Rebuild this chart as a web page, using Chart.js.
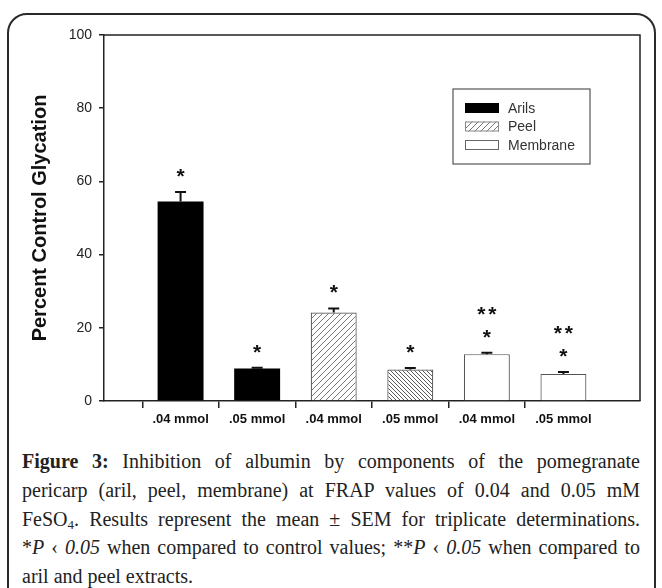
<!DOCTYPE html>
<html>
<head>
<meta charset="utf-8">
<script src="https://cdn.jsdelivr.net/npm/chart.js@4.4.1/dist/chart.umd.min.js"></script>
<style>
  html, body { margin:0; padding:0; background:#fff; width:662px; height:588px; overflow:hidden; }
  #frame { position:absolute; left:7px; top:13px; width:645px; height:640px; border:2px solid #2a2a2a; border-radius:20px; }
  #c { position:absolute; left:0; top:0; }
  #caption { position:absolute; left:22px; top:447px; width:618px; font-family:"Liberation Serif","Times New Roman",serif; font-size:20px; line-height:28.8px; color:#222; }
  #caption div { height:28.8px; text-align:justify; text-align-last:justify; white-space:nowrap; }
  #caption div.last { text-align-last:left; }
  #caption sub { font-size:13px; line-height:0; vertical-align:baseline; position:relative; top:3px; }
</style>
</head>
<body>
<div id="frame"></div>
<canvas id="c" width="662" height="432"></canvas>
<div id="caption">
  <div><b>Figure 3:</b> Inhibition of albumin by components of the pomegranate</div>
  <div>pericarp (aril, peel, membrane) at FRAP values of 0.04 and 0.05 mM</div>
  <div>FeSO<sub>4</sub>. Results represent the mean ± SEM for triplicate determinations.</div>
  <div>*<i>P</i> ‹ <i>0.05</i> when compared to control values; **<i>P</i> ‹ <i>0.05</i> when compared to</div>
  <div class="last">aril and peel extracts.</div>
</div>
<script>
// ---- data ----
const categories = ['.04 mmol', '.05 mmol', '.04 mmol', '.05 mmol', '.04 mmol', '.05 mmol'];
const arils    = [54.5, 8.9, null, null, null, null];
const peel     = [null, null, 24.2, 8.6, null, null];
const membrane = [null, null, null, null, 12.8, 7.4];
const sem      = [2.6, 0.2, 1.1, 0.4, 0.4, 0.5];
const starsVsControl = ['*', '*', '*', '*', '*', '*'];
const starsVsArilPeel = ['', '', '', '', '**', '**'];
const yTicks = [0, 20, 40, 60, 80, 100];
const seriesNames = ['Arils', 'Peel', 'Membrane'];

const FONT = '"Liberation Sans", Arial, sans-serif';
const pad = arr => [null, ...arr, null];
const labels = ['', ...categories, ''];

function hatch(dir, size, color, lw) {
  const c = document.createElement('canvas');
  c.width = size; c.height = size;
  const g = c.getContext('2d');
  g.fillStyle = '#fff'; g.fillRect(0, 0, size, size);
  g.strokeStyle = color; g.lineWidth = lw;
  g.beginPath();
  if (dir === '/') {
    g.moveTo(0, size); g.lineTo(size, 0);
    g.moveTo(-1, 1); g.lineTo(1, -1);
    g.moveTo(size - 1, size + 1); g.lineTo(size + 1, size - 1);
  } else {
    g.moveTo(0, 0); g.lineTo(size, size);
    g.moveTo(-1, size - 1); g.lineTo(1, size + 1);
    g.moveTo(size - 1, -1); g.lineTo(size + 1, 1);
  }
  g.stroke();
  return g.createPattern(c, 'repeat');
}
const hatchLight = hatch('/', 6, '#777', 1);
const hatchDense = hatch('\\', 4, '#5a5a5a', 1);

const errorStarsPlugin = {
  id: 'errorStars',
  afterDatasetsDraw(chart) {
    const ctx = chart.ctx;
    const ys = chart.scales.y;
    ctx.save();
    chart.data.datasets.forEach((ds, di) => {
      const meta = chart.getDatasetMeta(di);
      meta.data.forEach((el, i) => {
        const v = ds.data[i];
        if (v === null || v === undefined) return;
        const ci = i - 1;
        const yTop = el.y;
        const yErr = ys.getPixelForValue(v + sem[ci]);
        ctx.strokeStyle = '#111';
        ctx.lineWidth = 2;
        ctx.beginPath();
        ctx.moveTo(el.x, yTop); ctx.lineTo(el.x, yErr);
        ctx.moveTo(el.x - 5.5, yErr); ctx.lineTo(el.x + 5.5, yErr);
        ctx.stroke();
        ctx.fillStyle = '#111';
        ctx.font = 'bold 21px ' + FONT;
        ctx.textAlign = 'center';
        ctx.textBaseline = 'alphabetic';
        const c1 = yErr - 21;
        if (starsVsControl[ci]) ctx.fillText(starsVsControl[ci], el.x, c1 + 12);
        if (starsVsArilPeel[ci]) {
          const c2 = c1 - 23;
          ctx.fillText('*', el.x - 5.5, c2 + 12);
          ctx.fillText('*', el.x + 5.5, c2 + 12);
        }
      });
    });
    const a = chart.chartArea;
    ctx.strokeStyle = '#222';
    ctx.lineWidth = 1.5;
    ctx.beginPath();
    ctx.moveTo(a.left, a.top); ctx.lineTo(a.right, a.top); ctx.lineTo(a.right, a.bottom);
    ctx.stroke();
    ctx.restore();
  }
};

const legendPlugin = {
  id: 'boxLegend',
  afterDraw(chart) {
    const ctx = chart.ctx;
    const a = chart.chartArea;
    const bx = a.right - 187, by = a.top + 54, bw = 137, bh = 75;
    ctx.save();
    ctx.strokeStyle = '#555';
    ctx.lineWidth = 1.2;
    ctx.fillStyle = '#fff';
    ctx.fillRect(bx, by, bw, bh);
    ctx.strokeRect(bx, by, bw, bh);
    chart.data.datasets.forEach((ds, i) => {
      const cy = by + 19 + i * 18.5;
      const sx = bx + 12;
      ctx.fillStyle = ds.legendFill;
      ctx.fillRect(sx, cy - 5, 34, 10);
      ctx.strokeStyle = ds.legendBorder;
      ctx.lineWidth = 1;
      ctx.strokeRect(sx + 0.5, cy - 4.5, 33, 9);
      ctx.fillStyle = '#333';
      ctx.font = '14px ' + FONT;
      ctx.textAlign = 'left';
      ctx.textBaseline = 'middle';
      ctx.fillText(ds.label, bx + 55, cy + 1);
    });
    ctx.restore();
  }
};

new Chart(document.getElementById('c'), {
  type: 'bar',
  data: {
    labels: labels,
    datasets: [
      { label: seriesNames[0], data: pad(arils), backgroundColor: '#000', borderColor: '#000', borderWidth: 0,
        legendFill: '#000', legendBorder: '#000' },
      { label: seriesNames[1], data: pad(peel), backgroundColor: [null, null, null, hatchLight, hatchDense, null, null, null],
        borderColor: '#555', borderWidth: 1.2, legendFill: hatchLight, legendBorder: '#888' },
      { label: seriesNames[2], data: pad(membrane), backgroundColor: '#fff', borderColor: '#555', borderWidth: 1.2,
        legendFill: '#fff', legendBorder: '#666' }
    ]
  },
  options: {
    responsive: false,
    animation: false,
    devicePixelRatio: 1,
    layout: { padding: { left: 0, right: 22, top: 35, bottom: 0 } },
    datasets: { bar: { grouped: false, categoryPercentage: 1, barPercentage: 0.6 } },
    plugins: { legend: { display: false }, tooltip: { enabled: false } },
    scales: {
      x: {
        offset: false,
        grid: { drawOnChartArea: false, drawTicks: true, tickLength: 7,
                color: ctx => (ctx.index === 0 || ctx.index === labels.length - 1) ? 'rgba(0,0,0,0)' : '#222',
                lineWidth: 1.5 },
        border: { display: true, color: '#222', width: 1.5 },
        ticks: { autoSkip: false, maxRotation: 0, padding: 4, color: '#111', font: { family: FONT, size: 13, weight: 'bold' } },
        afterFit: s => { s.height = 31; }
      },
      y: {
        min: 0, max: 100,
        afterBuildTicks: s => { s.ticks = yTicks.map(v => ({ value: v })); },
        grid: { drawOnChartArea: false, drawTicks: true, tickLength: 5, color: '#222', lineWidth: 1.5 },
        border: { display: true, color: '#222', width: 1.5 },
        ticks: { padding: 7, color: '#222', font: { family: FONT, size: 14 } },
        title: { display: true, text: 'Percent Control Glycation', color: '#111',
                 font: { family: FONT, size: 20, weight: 'bold' }, padding: { top: 28, bottom: 0 } },
        afterFit: s => { s.width = 104; }
      }
    }
  },
  plugins: [errorStarsPlugin, legendPlugin]
});
</script>
</body>
</html>
